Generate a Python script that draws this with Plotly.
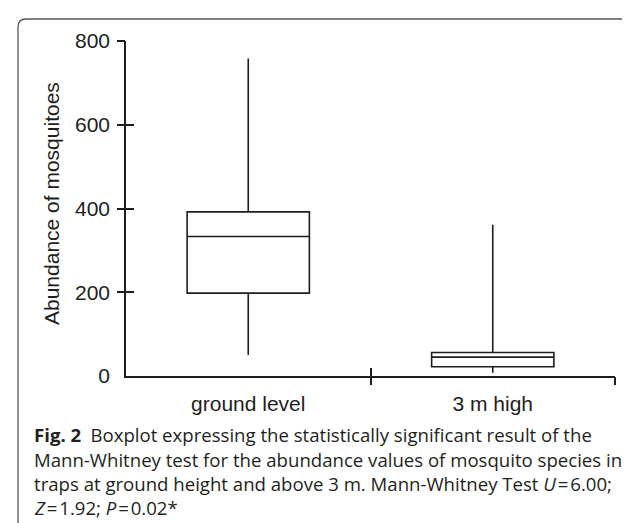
import plotly.graph_objects as go

# ---- data ----
categories = ["ground level", "3 m high"]
q1_vals = [198, 22]
median_vals = [333, 45]
q3_vals = [392, 56]
lower_vals = [50, 8]
upper_vals = [758, 361]
y_tickvals = [0, 200, 400, 600, 800]
y_ticklabels = ["0", "200", "400", "600", "800"]
y_title = "Abundance of mosquitoes"
caption_lines = [
    "<b>Fig. 2</b>\u2002Boxplot expressing the statistically significant result of the",
    "Mann-Whitney test for the abundance values of mosquito species in",
    "traps at ground height and above 3 m. Mann-Whitney Test <i>U</i>\u200a=\u200a6.00;",
    "<i>Z</i>\u200a=\u200a1.92; <i>P</i>\u200a=\u200a0.02*",
]

W, H = 630, 523
L, R, T, B = 118, 23, 33, 155
PW = W - L - R
PH = H - T - B

def px_x(px):
    return (px - L) / PW

def px_y(py):
    return (H - B - py) / PH

INK = "#1e1e1e"
AX_FONT = "Liberation Sans, Arial, sans-serif"
CAP_FONT = "Open Sans, Noto Sans, sans-serif"

fig = go.Figure()
for i, c in enumerate(categories):
    fig.add_trace(go.Box(
        x=[c], q1=[q1_vals[i]], median=[median_vals[i]], q3=[q3_vals[i]],
        lowerfence=[lower_vals[i]], upperfence=[upper_vals[i]],
        width=0.5, whiskerwidth=0, boxpoints=False,
        line=dict(color=INK, width=1.6), fillcolor="rgba(255,255,255,0)",
        showlegend=False, hoverinfo="skip",
    ))

# dummy traces to activate overlay axes for crossing ticks
fig.add_trace(go.Scatter(x=[None], y=[None], xaxis="x2", yaxis="y2", showlegend=False, hoverinfo="skip"))
fig.add_trace(go.Scatter(x=[None], y=[None], xaxis="x3", yaxis="y3", showlegend=False, hoverinfo="skip"))

common_hidden = dict(showgrid=False, zeroline=False, showline=False, showticklabels=False, fixedrange=True)

fig.update_layout(
    width=W, height=H,
    margin=dict(l=L, r=R, t=T, b=B, pad=0),
    paper_bgcolor="white", plot_bgcolor="white",
    xaxis=dict(type="category", categoryorder="array", categoryarray=categories,
               range=[-0.5, 1.5], showline=True, linecolor=INK, linewidth=1.6,
               ticks="outside", ticklen=8, tickcolor="rgba(0,0,0,0)",
               tickfont=dict(family=AX_FONT, size=21, color=INK),
               showgrid=False, zeroline=False, fixedrange=True),
    yaxis=dict(range=[0, 800], tickvals=y_tickvals, ticktext=y_ticklabels,
               showline=True, linecolor=INK, linewidth=1.6,
               ticks="outside", ticklen=8, tickcolor="rgba(0,0,0,0)",
               ticklabelstandoff=2,
               tickfont=dict(family=AX_FONT, size=21, color=INK),
               showgrid=False, zeroline=False, fixedrange=True),
    xaxis2=dict(overlaying="x", anchor="y2", range=[-0.5, 1.5], tickvals=[0.5, 1.5],
                ticks="outside", ticklen=8, tickwidth=1.6, tickcolor=INK, **common_hidden),
    xaxis3=dict(overlaying="x", anchor="y3", range=[-0.5, 1.5], tickvals=[0.5, 1.5],
                ticks="inside", ticklen=8, tickwidth=1.6, tickcolor=INK, **common_hidden),
    yaxis2=dict(overlaying="y", anchor="x2", range=[0, 800], tickvals=y_tickvals[1:],
                ticks="outside", ticklen=8, tickwidth=1.6, tickcolor=INK, **common_hidden),
    yaxis3=dict(overlaying="y", anchor="x3", range=[0, 800], tickvals=y_tickvals[1:],
                ticks="inside", ticklen=8, tickwidth=1.6, tickcolor=INK, **common_hidden),
)

# y-axis title
fig.add_annotation(text=y_title, xref="paper", yref="paper", x=px_x(43), y=px_y(196),
                   textangle=-90, showarrow=False, xanchor="center", yanchor="middle",
                   font=dict(family=AX_FONT, size=21, color=INK))

# caption
cap_centers = [426, 451, 475, 499]
for line, cy in zip(caption_lines, cap_centers):
    fig.add_annotation(text=line, xref="paper", yref="paper", x=px_x(24), y=px_y(cy),
                       showarrow=False, xanchor="left", yanchor="middle", align="left",
                       font=dict(family=CAP_FONT, size=18.6, color="#231f20"))

# rounded frame
lx, rx, ty, by, r = 10, 629, 11, 527, 8
x0, x1 = px_x(lx), px_x(rx)
y0, y1 = px_y(by), px_y(ty)
dx, dy = r / PW, r / PH
path = (f"M {x0},{y0 + dy} L {x0},{y1 - dy} Q {x0},{y1} {x0 + dx},{y1} "
        f"L {x1 - dx},{y1} Q {x1},{y1} {x1},{y1 - dy} L {x1},{y0 + dy}")
fig.add_shape(type="path", path=path, xref="paper", yref="paper",
              line=dict(color="#555555", width=1.3), layer="below")

fig.write_html("out.html")
